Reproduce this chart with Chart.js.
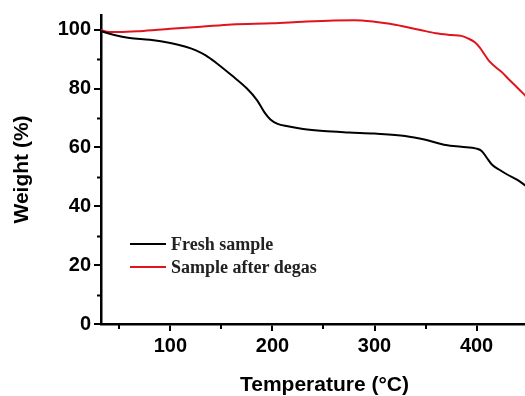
<!DOCTYPE html>
<html>
<head>
<meta charset="utf-8">
<script src="https://cdn.jsdelivr.net/npm/chart.js@4"></script>
<style>
  html, body { margin: 0; padding: 0; background: #fff; overflow: hidden; width: 525px; height: 396px; }
  #wrap { position: relative; width: 548px; height: 396px; }
  canvas { display: block; }
  .leg { position: absolute; left: 130px; height: 20px; display: flex; align-items: center;
         font-family: "Liberation Serif", "Times New Roman", serif; font-weight: bold; font-size: 18px; color: #222; white-space: nowrap; }
  .leg span.ln { display: inline-block; width: 36px; height: 2px; margin-right: 5px; }
</style>
</head>
<body>
<div id="wrap">
  <canvas id="c" width="548" height="396"></canvas>
  <div class="leg" style="top:234px"><span class="ln" style="background:#000"></span>Fresh sample</div>
  <div class="leg" style="top:257px"><span class="ln" style="background:#e0141e"></span>Sample after degas</div>
</div>
<script>
// ---- data ----
const FRESH_T = [32, 45, 60, 80, 100, 115, 125, 135, 145, 160, 175, 185, 192, 198, 205, 215, 230, 250, 275, 300, 330, 350, 370, 385, 400, 405, 410, 415, 422, 430, 440, 448];
const FRESH_W = [99.5, 98.2, 97.2, 96.6, 95.5, 94.2, 93.0, 91.2, 88.7, 84.5, 80.0, 76.0, 72.0, 69.5, 68.0, 67.2, 66.3, 65.6, 65.1, 64.7, 63.9, 62.6, 60.8, 60.2, 59.6, 58.8, 56.5, 54.2, 52.5, 50.8, 49.0, 47.0];
const DEGAS_T = [32, 38, 50, 70, 100, 130, 160, 200, 230, 260, 280, 300, 315, 330, 345, 360, 375, 385, 392, 398, 403, 408, 412, 418, 425, 432, 440, 448];
const DEGAS_W = [99.9, 99.3, 99.2, 99.5, 100.3, 101.0, 101.8, 102.2, 102.7, 103.1, 103.2, 102.7, 102.0, 101.0, 99.9, 98.8, 98.2, 97.9, 97.0, 95.8, 94.0, 91.5, 89.5, 87.5, 85.5, 83.0, 80.3, 77.5];
const SERIES_NAMES = ["Fresh sample", "Sample after degas"];
const X_TICKS = [100, 200, 300, 400];
const X_MINOR = [50, 150, 250, 350, 450];
const Y_TICKS = [0, 20, 40, 60, 80, 100];
const Y_MINOR = [10, 30, 50, 70, 90];
const X_RANGE = [32, 470];
const Y_RANGE = [0, 105];

const toPts = (xs, ys) => xs.map((x, i) => ({x: x, y: ys[i]}));

const minorTicks = {
  id: 'minorTicks',
  afterDraw(chart) {
    const {ctx, scales: {x, y}, chartArea} = chart;
    ctx.save();
    ctx.strokeStyle = '#000';
    ctx.lineWidth = 2;
    ctx.beginPath();
    Y_MINOR.forEach(v => {
      const py = Math.round(y.getPixelForValue(v)) + 0.5;
      ctx.moveTo(chartArea.left - 4, py);
      ctx.lineTo(chartArea.left, py);
    });
    X_MINOR.forEach(v => {
      const px = Math.round(x.getPixelForValue(v));
      if (px > chartArea.right) return;
      ctx.moveTo(px, chartArea.bottom);
      ctx.lineTo(px, chartArea.bottom + 5);
    });
    ctx.stroke();
    ctx.restore();
  }
};

const tickFont = {family: "'Liberation Sans', Arial, sans-serif", weight: 'bold', size: 20};
const titleFont = {family: "'Liberation Sans', Arial, sans-serif", weight: 'bold', size: 21, lineHeight: 1};

new Chart(document.getElementById('c'), {
  type: 'line',
  data: {
    datasets: [
      {label: SERIES_NAMES[0], data: toPts(FRESH_T, FRESH_W), borderColor: '#000', borderWidth: 2, pointRadius: 0, cubicInterpolationMode: 'monotone', fill: false},
      {label: SERIES_NAMES[1], data: toPts(DEGAS_T, DEGAS_W), borderColor: '#e0141e', borderWidth: 2, pointRadius: 0, cubicInterpolationMode: 'monotone', fill: false}
    ]
  },
  options: {
    responsive: false,
    animation: false,
    layout: {padding: {top: 13, right: 0, left: 0, bottom: 0}},
    plugins: {legend: {display: false}, tooltip: {enabled: false}},
    scales: {
      x: {
        type: 'linear', position: 'bottom', min: X_RANGE[0], max: X_RANGE[1],
        afterBuildTicks: s => { s.ticks = X_TICKS.map(v => ({value: v})); },
        afterFit: s => { s.height = 72; },
        ticks: {color: '#000', font: tickFont, padding: 3, maxRotation: 0},
        grid: {drawOnChartArea: false, drawTicks: true, tickLength: 7, color: '#000', lineWidth: 2},
        border: {display: true, color: '#000', width: 2.5},
        title: {display: true, text: 'Temperature (°C)', color: '#000', font: titleFont, padding: {top: 0, bottom: 0}}
      },
      y: {
        type: 'linear', position: 'left', min: Y_RANGE[0], max: Y_RANGE[1],
        afterBuildTicks: s => { s.ticks = Y_TICKS.map(v => ({value: v})); },
        afterFit: s => { s.width = 101; },
        ticks: {color: '#000', font: tickFont, padding: 3},
        grid: {drawOnChartArea: false, drawTicks: true, tickLength: 7, color: '#000', lineWidth: 2},
        border: {display: true, color: '#000', width: 2.5},
        title: {display: true, text: 'Weight (%)', color: '#000', font: titleFont, padding: {top: 12, bottom: 0}}
      }
    }
  },
  plugins: [minorTicks]
});
</script>
</body>
</html>
